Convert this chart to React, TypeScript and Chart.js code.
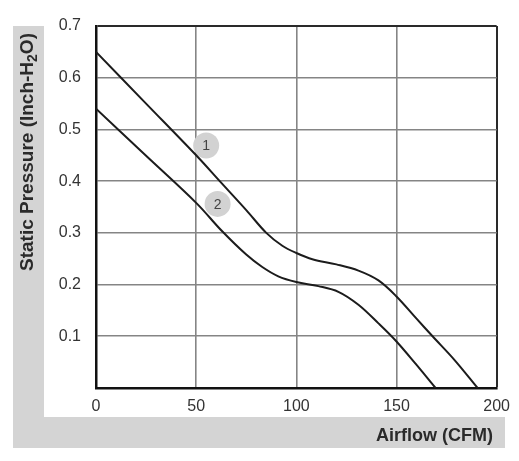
import React, { useEffect, useRef } from "react";
import { Chart, registerables } from "chart.js";

Chart.register(...registerables);

const xTicks = [0, 50, 100, 150, 200];
const yTicks = [0.1, 0.2, 0.3, 0.4, 0.5, 0.6, 0.7];

const curve1X = [0, 25, 50, 62, 75, 85, 93, 100, 108, 120, 131, 141, 150, 160, 168, 179, 190.5];
const curve1Y = [0.65, 0.55, 0.45, 0.399, 0.344, 0.3, 0.275, 0.261, 0.249, 0.239, 0.227, 0.208, 0.177, 0.134, 0.1, 0.054, 0];

const curve2X = [0, 25, 50, 63, 75, 83, 91, 100, 111, 121, 131, 141, 150, 159.5, 169.5];
const curve2Y = [0.54, 0.449, 0.358, 0.303, 0.258, 0.234, 0.216, 0.205, 0.197, 0.186, 0.161, 0.125, 0.09, 0.047, 0];

const markerLabels = ["1", "2"];
const markerX = [55, 60.7];
const markerY = [0.469, 0.356];

const xTitle = "Airflow (CFM)";
const yTitleMain = "Static Pressure (Inch-H";
const yTitleSub = "2";
const yTitleEnd = "O)";

const FONT = "'Liberation Sans', Arial, sans-serif";

const decorPlugin = {
  id: "decor",
  beforeDraw(chart: any) {
    const ctx = chart.ctx;
    ctx.save();
    ctx.fillStyle = "#ffffff";
    ctx.fillRect(0, 0, chart.width, chart.height);
    ctx.fillStyle = "#d4d4d4";
    ctx.fillRect(13, 26, 31, 422);
    ctx.fillRect(13, 417, 492, 31);
    ctx.restore();
  },
  afterDatasetsDraw(chart: any) {
    const ctx = chart.ctx;
    ctx.save();
    const meta = chart.getDatasetMeta(2);
    ctx.fillStyle = "#444";
    ctx.font = `14px ${FONT}`;
    ctx.textAlign = "center";
    ctx.textBaseline = "middle";
    meta.data.forEach((pt: any, i: number) => {
      ctx.fillText(markerLabels[i], pt.x, pt.y + 1);
    });
    ctx.restore();
  },
  afterDraw(chart: any) {
    const ctx = chart.ctx;
    ctx.save();
    ctx.fillStyle = "#2a2a2a";
    // x title
    ctx.font = `bold 18px ${FONT}`;
    ctx.textAlign = "right";
    ctx.textBaseline = "alphabetic";
    ctx.fillText(xTitle, 493, 441);
    // y title rotated
    const bold = `bold 19px ${FONT}`;
    const subFont = `bold 14px ${FONT}`;
    ctx.font = bold;
    const w1 = ctx.measureText(yTitleMain).width;
    const w3 = ctx.measureText(yTitleEnd).width;
    ctx.font = subFont;
    const w2 = ctx.measureText(yTitleSub).width;
    const total = w1 + w2 + w3;
    ctx.translate(33, 152);
    ctx.rotate(-Math.PI / 2);
    ctx.textAlign = "left";
    let x = -total / 2;
    ctx.font = bold;
    ctx.fillText(yTitleMain, x, 0);
    x += w1;
    ctx.font = subFont;
    ctx.fillText(yTitleSub, x, 4);
    x += w2;
    ctx.font = bold;
    ctx.fillText(yTitleEnd, x, 0);
    ctx.restore();
  },
};

export default function App() {
  const ref = useRef<HTMLCanvasElement | null>(null);
  useEffect(() => {
    document.body.style.margin = "0";
    const canvas = ref.current;
    if (!canvas) return;
    const chart = new Chart(canvas, {
      type: "scatter",
      data: {
        datasets: [
          {
            data: curve1X.map((x, i) => ({ x, y: curve1Y[i] })),
            showLine: true,
            borderColor: "#1c1c1c",
            borderWidth: 2,
            pointRadius: 0,
            tension: 0.35,
            order: 1,
          },
          {
            data: curve2X.map((x, i) => ({ x, y: curve2Y[i] })),
            showLine: true,
            borderColor: "#1c1c1c",
            borderWidth: 2,
            pointRadius: 0,
            tension: 0.35,
            order: 1,
          },
          {
            data: markerX.map((x, i) => ({ x, y: markerY[i] })),
            showLine: false,
            pointRadius: 13,
            pointBackgroundColor: "#d2d2d2",
            pointBorderWidth: 0,
            pointBorderColor: "rgba(0,0,0,0)",
            order: 2,
          },
        ],
      },
      options: {
        responsive: false,
        animation: false,
        devicePixelRatio: 1,
        layout: { padding: { left: 0, right: 21, top: 26, bottom: 0 } },
        plugins: {
          legend: { display: false },
          tooltip: { enabled: false },
          title: { display: false },
        },
        scales: {
          x: {
            type: "linear",
            min: 0,
            max: 200,
            afterFit(scale: any) {
              scale.height = 73;
            },
            afterBuildTicks(scale: any) {
              scale.ticks = xTicks.map((v) => ({ value: v }));
            },
            ticks: {
              color: "#333",
              font: { family: FONT, size: 16 },
              padding: 9,
              maxRotation: 0,
              callback: (v: any) => String(v),
            },
            grid: {
              drawTicks: false,
              color: (c: any) => (c.tick && c.tick.value === 200 ? "#2a2a2a" : "#858585"),
              lineWidth: (c: any) => (c.tick && c.tick.value === 200 ? 2 : 1.6),
            },
            border: { color: "#111", width: 2.5 },
          },
          y: {
            type: "linear",
            min: 0,
            max: 0.7,
            afterFit(scale: any) {
              scale.width = 96;
            },
            afterBuildTicks(scale: any) {
              scale.ticks = [{ value: 0 }, ...yTicks.map((v) => ({ value: v }))];
            },
            ticks: {
              color: "#333",
              font: { family: FONT, size: 16 },
              padding: 15,
              callback: (v: any) => (v === 0 ? "" : Number(v).toFixed(1)),
            },
            grid: {
              drawTicks: false,
              color: (c: any) => (c.tick && Math.abs(c.tick.value - 0.7) < 1e-6 ? "#2a2a2a" : "#858585"),
              lineWidth: (c: any) => (c.tick && Math.abs(c.tick.value - 0.7) < 1e-6 ? 2 : 1.6),
            },
            border: { color: "#111", width: 2.5 },
          },
        },
      },
      plugins: [decorPlugin],
    } as any);
    return () => chart.destroy();
  }, []);
  return (
    <div style={{ width: 519, height: 461, position: "relative" }}>
      <canvas ref={ref} width={519} height={461} style={{ display: "block" }} />
    </div>
  );
}
